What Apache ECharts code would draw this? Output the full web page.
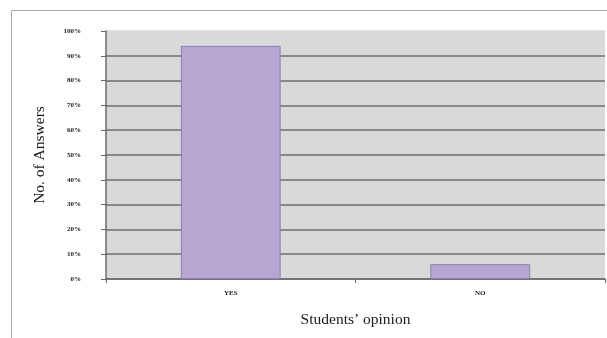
<!DOCTYPE html>
<html>
<head>
<meta charset="utf-8">
<script src="https://cdn.jsdelivr.net/npm/echarts@6/dist/echarts.min.js"></script>
<style>
  html, body { margin: 0; padding: 0; background: #ffffff; }
  #chart { width: 607px; height: 338px; }
</style>
</head>
<body>
<div id="chart"></div>
<script>
// Survey answers, share of students per opinion (percent)
const categories = ['YES', 'NO'];
const answerShare = [94, 6];
const yTicks = { min: 0, max: 100, interval: 10 };

const serif = '"Liberation Serif", "DejaVu Serif", serif';
const plotFill = '#d9d9d9';
const gridColor = '#6e6e6e';

// one colour per split line from 0% up to 100%; the top edge stays unruled
const splitColors = [];
for (let v = yTicks.min; v <= yTicks.max; v += yTicks.interval) {
  splitColors.push(v === yTicks.max ? plotFill : gridColor);
}

const chart = echarts.init(document.getElementById('chart'), null, { renderer: 'canvas' });

chart.setOption({
  animation: false,
  backgroundColor: '#ffffff',
  graphic: [
    {
      type: 'rect',
      shape: { x: 11.5, y: 10.5, width: 640, height: 360 },
      style: { fill: 'none', stroke: '#a6a6a6', lineWidth: 1 },
      z: -1
    }
  ],
  grid: {
    left: 106, top: 31, right: 2, bottom: 59,
    show: true,
    backgroundColor: plotFill,
    borderWidth: 0
  },
  xAxis: {
    type: 'category',
    data: categories,
    name: 'Students\u2019 opinion',
    nameLocation: 'middle',
    nameGap: 33,
    nameTextStyle: { fontFamily: serif, fontSize: 15.5, color: '#1a1a1a' },
    axisLine: { show: true, lineStyle: { color: '#6b6b6b', width: 1.5 } },
    axisTick: { show: true, length: 4, lineStyle: { color: '#6b6b6b' } },
    axisLabel: { fontFamily: serif, fontSize: 7, fontWeight: 'bold', color: '#222', margin: 11 },
    splitLine: { show: false }
  },
  yAxis: {
    type: 'value',
    min: yTicks.min,
    max: yTicks.max,
    interval: yTicks.interval,
    name: 'No. of Answers',
    nameLocation: 'middle',
    nameGap: 58,
    nameTextStyle: { fontFamily: serif, fontSize: 15.5, color: '#1a1a1a' },
    axisLine: { show: true, lineStyle: { color: '#6b6b6b', width: 1.5 } },
    axisTick: { show: true, length: 5, lineStyle: { color: '#6b6b6b' } },
    axisLabel: {
      formatter: '{value}%',
      fontFamily: serif, fontSize: 7, fontWeight: 'bold', color: '#222', margin: 25
    },
    splitLine: { show: true, lineStyle: { color: splitColors, width: 1.5 } }
  },
  series: [
    {
      type: 'bar',
      data: answerShare,
      barWidth: '40%',
      itemStyle: { color: '#b5a6d2', borderColor: '#8f7fb5', borderWidth: 1 }
    }
  ]
});
</script>
</body>
</html>
